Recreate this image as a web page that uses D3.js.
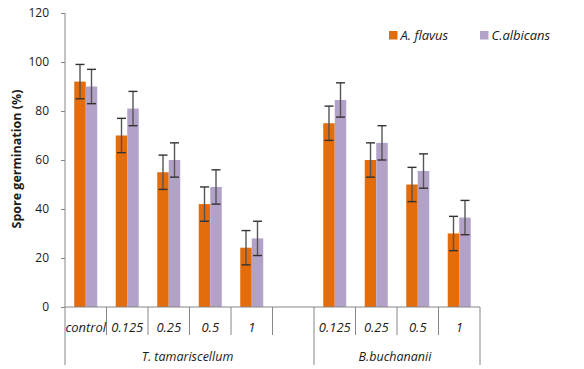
<!DOCTYPE html>
<html><head><meta charset="utf-8">
<script src="https://cdn.jsdelivr.net/npm/d3@7/dist/d3.min.js"></script>
<style>body{margin:0;background:#fff}svg{display:block}text{font-family:"Open Sans","Noto Sans",sans-serif}</style>
</head><body><svg id="c" width="584" height="369"></svg>
<script>
const groups = ["T. tamariscellum", "B.buchananii"];
const categories = ["control","0.125","0.25","0.5","1","","0.125","0.25","0.5","1"];
const categoryGroup = [0,0,0,0,0,0,1,1,1,1];
const seriesNames = ["A. flavus","C.albicans"];
const aflavus = [92,70,55,42,24.2,null,75,60,50,30];
const calbicans = [90,81,60,49,28,null,84.5,67,55.5,36.5];
const aflavusErr = [7,7,7,7,7,null,7,7,7,7];
const calbicansErr = [7,7,7,7,7,null,7,7,7,7];
const yTicks = [0,20,40,60,80,100,120];
const colors = ["#E46C0A","#B3A2C7"];

const svg = d3.select("#c");
const x0 = 65, x1 = 480, yTop = 13, yBot = 307;
const y = d3.scaleLinear().domain([0,120]).range([yBot,yTop]);
const xb = d3.scaleBand().domain(d3.range(categories.length)).range([x0,x1]).paddingInner(0).paddingOuter(0);
const barW = 11.5;
const series = [aflavus, calbicans];
const errs = [aflavusErr, calbicansErr];

// y axis
const yAxis = d3.axisLeft(y).tickValues(yTicks).tickSize(4).tickPadding(12);
const ga = svg.append("g").attr("transform",`translate(${x0},0)`).call(yAxis);
ga.select(".domain").attr("stroke","#868686").attr("d",`M0,${yTop}V${yBot}`);
ga.selectAll(".tick line").attr("stroke","#868686");
ga.selectAll(".tick text").attr("font-size",12).attr("fill","#1a1a1a").attr("font-family","Open Sans");

// bars
series.forEach((s,si)=>{
  svg.append("g").selectAll("rect").data(s.map((v,i)=>({v,i})).filter(d=>d.v!=null))
    .join("rect")
    .attr("x",d=>xb(d.i)+xb.bandwidth()/2 - barW + si*barW)
    .attr("width",barW)
    .attr("y",d=>y(d.v))
    .attr("height",d=>y(0)-y(d.v))
    .attr("fill",colors[si]);
});
// error bars
series.forEach((s,si)=>{
  const g = svg.append("g").attr("stroke","#333").attr("stroke-width",1.4);
  s.forEach((v,i)=>{
    if(v==null) return;
    const cx = xb(i)+xb.bandwidth()/2 - barW/2 + si*barW;
    const e = errs[si][i];
    g.append("line").attr("x1",cx).attr("x2",cx).attr("y1",y(v+e)).attr("y2",y(v-e)).attr("stroke","#555");
    [v+e,v-e].forEach(t=>g.append("line").attr("x1",cx-4.5).attr("x2",cx+4.5).attr("y1",y(t)).attr("y2",y(t)));
  });
});

// x axis line
svg.append("line").attr("x1",x0).attr("x2",x1).attr("y1",yBot).attr("y2",yBot).attr("stroke","#868686");
// category separators
for(let i=0;i<=categories.length;i++){
  const xx = i<categories.length ? xb(i) : x1;
  const isGroupEdge = (i===0 || i===categories.length || categoryGroup[i]!==categoryGroup[i-1]);
  svg.append("line").attr("x1",xx).attr("x2",xx).attr("y1",yBot).attr("y2",isGroupEdge?365:335).attr("stroke","#868686");
}
// category labels
svg.append("g").selectAll("text").data(categories).join("text")
  .attr("x",(d,i)=>xb(i)+xb.bandwidth()/2).attr("y",331.5)
  .attr("text-anchor","middle").attr("font-size",13).attr("font-style","italic").attr("fill","#1a1a1a")
  .text(d=>d);
// group labels
groups.forEach((g,gi)=>{
  const idx = categories.map((c,i)=>i).filter(i=>categoryGroup[i]===gi);
  const xs = xb(idx[0]), xe = xb(idx[idx.length-1])+xb.bandwidth();
  svg.append("text").attr("x",(xs+xe)/2 - 2).attr("y",360.5).attr("text-anchor","middle")
    .attr("font-size",12.5).attr("font-style","italic").attr("fill","#1a1a1a").text(g);
});

// y label
svg.append("text").attr("transform","translate(21,159) rotate(-90)").attr("text-anchor","middle")
  .attr("font-size",12.5).attr("font-weight","bold").attr("fill","#1a1a1a").text("Spore germination (%)");

// legend
const legX = [389,480];
seriesNames.forEach((n,i)=>{
  svg.append("rect").attr("x",legX[i]).attr("y",31).attr("width",8.5).attr("height",8.5).attr("fill",colors[i]);
  svg.append("text").attr("x",legX[i]+11.5).attr("y",40).attr("font-size",13).attr("font-style","italic").attr("fill","#1a1a1a").text(n);
});
</script></body></html>
